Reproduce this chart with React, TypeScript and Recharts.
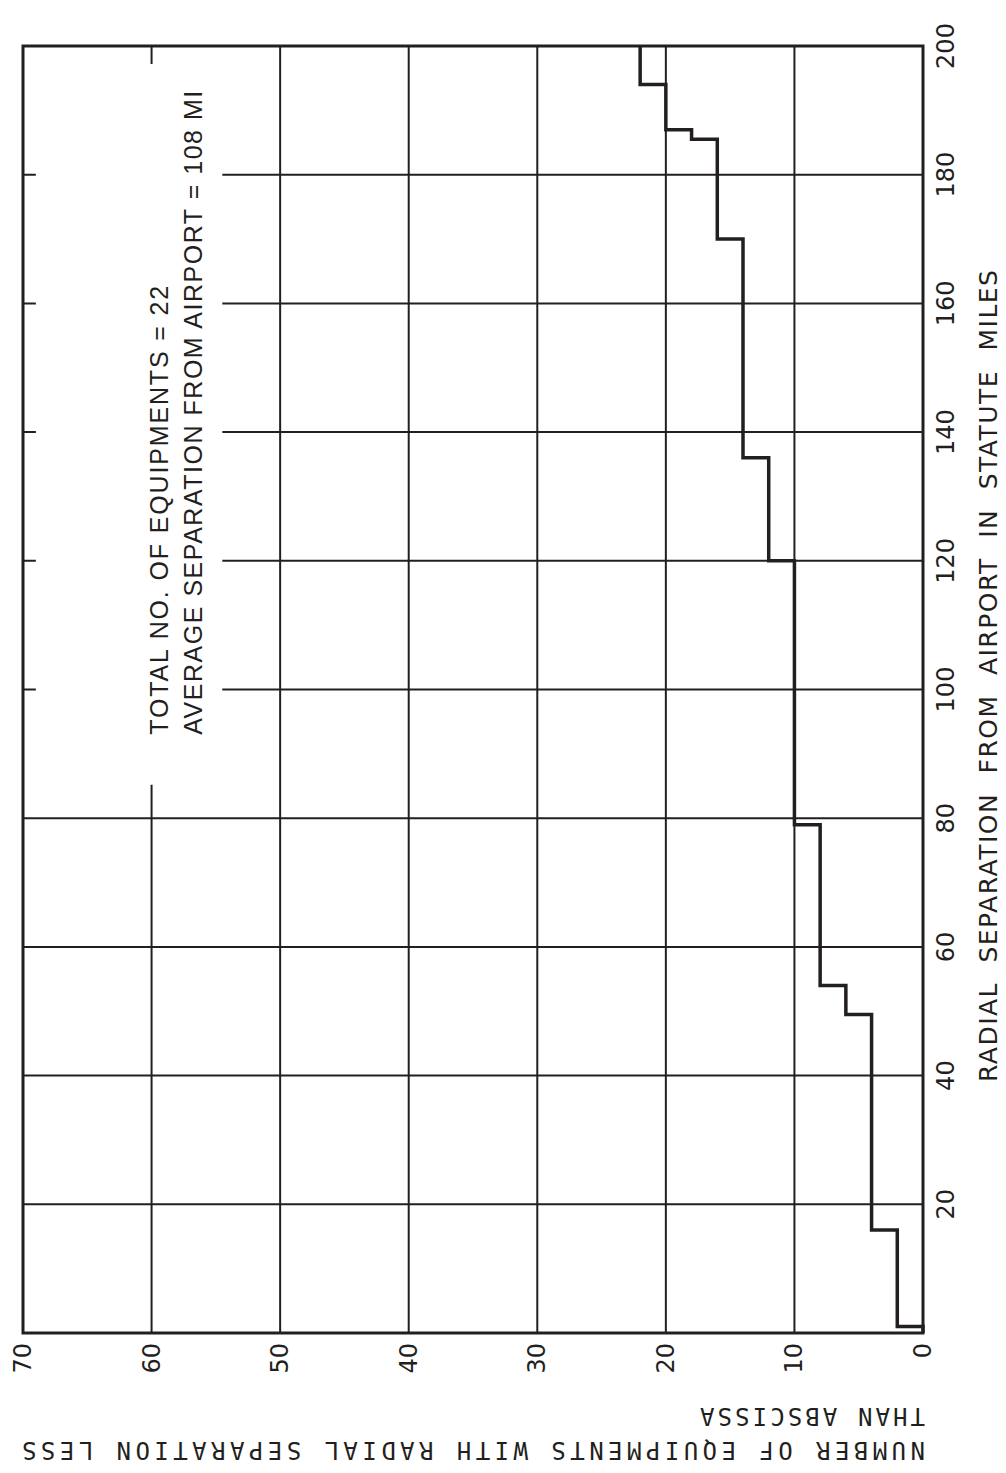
import React from 'react';
import { LineChart, Line, XAxis, YAxis, CartesianGrid, ReferenceArea } from 'recharts';

// step curve: miles where the count changes, and the count from there on
const miles = [0, 1, 16, 49.5, 54, 79, 120, 136, 170, 185.5, 187, 194, 200];
const counts = [0, 2, 4, 6, 8, 10, 12, 14, 16, 18, 20, 22, 22];

const mileTicks = [0, 20, 40, 60, 80, 100, 120, 140, 160, 180, 200];
const countTicks = [0, 10, 20, 30, 40, 50, 60, 70];

const noteLines = ['TOTAL NO. OF EQUIPMENTS = 22', 'AVERAGE SEPARATION FROM AIRPORT = 108 MI'];
const xTitle = 'RADIAL SEPARATION FROM AIRPORT IN STATUTE MILES';
const yTitle = ['NUMBER  OF  EQUIPMENTS  WITH  RADIAL  SEPARATION  LESS', 'THAN  ABSCISSA'];

// white patch behind the note (data coords)
const noteBox = { x1: 85.2, x2: 197.2, y1: 54.5, y2: 69 };

const data = miles.map((m, i) => ({ miles: m, count: counts[i] }));

const INK = '#231f20';

const MileTick = ({ x, y, payload }: any) => {
  if (payload.value === 0) return <g />;
  return (
    <text x={x} y={y} dy={17} textAnchor="middle" fontFamily="DejaVu Sans" fontSize={24} fill={INK}>
      {payload.value}
    </text>
  );
};

const CountTick = ({ x, y, payload }: any) => (
  <text x={x} y={y} dy={8} textAnchor="end" fontFamily="DejaVu Sans" fontSize={24} fill={INK}>
    {payload.value}
  </text>
);

const XTitle = ({ viewBox }: any) => (
  <text
    x={viewBox.x + 251}
    y={viewBox.y + 74}
    textLength={812}
    fontFamily="DejaVu Sans"
    fontSize={25}
    fill={INK}
    style={{ wordSpacing: 10 }}
  >
    {xTitle}
  </text>
);

const YTitle = ({ viewBox }: any) => {
  const y0 = viewBox.y + viewBox.height + 2;
  const x1 = viewBox.x + 31;
  const x2 = viewBox.x + 65;
  return (
    <g fontFamily="DejaVu Sans Mono" fontSize={24} fill={INK}>
      <text x={x1} y={y0} transform={`rotate(-90, ${x1}, ${y0})`} textLength={903}>
        {yTitle[0]}
      </text>
      <text x={x2} y={y0} transform={`rotate(-90, ${x2}, ${y0})`} textLength={225}>
        {yTitle[1]}
      </text>
    </g>
  );
};

const Note = ({ viewBox }: any) => {
  const x = viewBox.x + 50;
  const y = viewBox.y + 132;
  return (
    <g fontFamily="Liberation Sans" fontSize={25} fill={INK}>
      <text x={x} y={y} textLength={449}>{noteLines[0]}</text>
      <text x={x} y={y + 34} textLength={644}>{noteLines[1]}</text>
    </g>
  );
};

const App = () => {
  // drawn landscape, then turned a quarter turn so it reads like the scanned page
  return (
    <div style={{ position: 'absolute', left: 0, top: 0, width: 1006, height: 1473, overflow: 'hidden', background: '#fff' }}>
      <div
        style={{
          width: 1473,
          height: 1006,
          transformOrigin: '0 0',
          transform: 'translate(0px, 1473px) rotate(-90deg)',
        }}
      >
        <LineChart width={1473} height={1006} data={data} margin={{ top: 23, right: 46, left: 0, bottom: 0 }}>
          <CartesianGrid stroke={INK} strokeWidth={2} />
          <XAxis
            dataKey="miles"
            type="number"
            domain={[0, 200]}
            ticks={mileTicks}
            interval={0}
            height={83}
            tickSize={0}
            tickMargin={14}
            axisLine={false}
            tickLine={false}
            tick={<MileTick />}
            label={{ content: <XTitle /> }}
          />
          <YAxis
            type="number"
            domain={[0, 70]}
            ticks={countTicks}
            interval={0}
            width={140}
            tickSize={0}
            tickMargin={10}
            axisLine={false}
            tickLine={false}
            tick={<CountTick />}
            label={{ content: <YTitle /> }}
          />
          <ReferenceArea
            x1={noteBox.x1}
            x2={noteBox.x2}
            y1={noteBox.y1}
            y2={noteBox.y2}
            fill="#fff"
            fillOpacity={1}
            stroke="none"
            label={{ content: <Note /> }}
          />
          <ReferenceArea x1={0} x2={200} y1={0} y2={70} fill="none" fillOpacity={0} stroke={INK} strokeWidth={3} />
          <Line
            type="stepAfter"
            dataKey="count"
            stroke={INK}
            strokeWidth={3.5}
            dot={false}
            isAnimationActive={false}
          />
        </LineChart>
      </div>
    </div>
  );
};

export default App;
